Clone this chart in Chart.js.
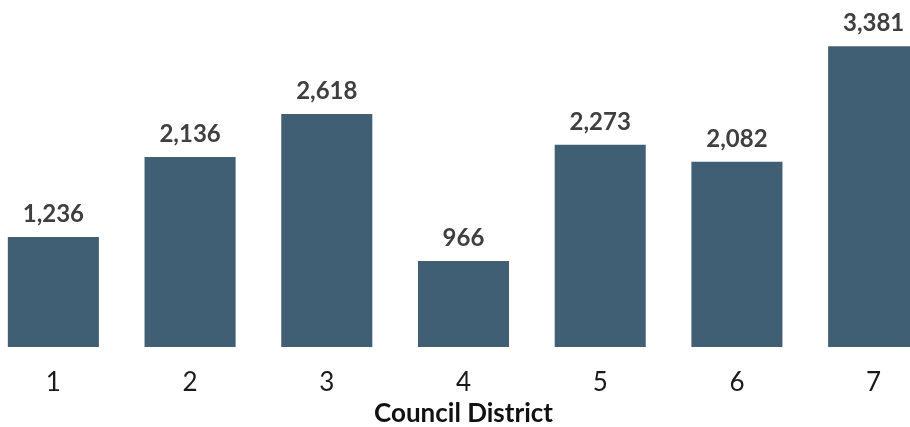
<!DOCTYPE html>
<html>
<head>
<meta charset="utf-8">
<script src="https://cdn.jsdelivr.net/npm/chart.js@4/dist/chart.umd.min.js"></script>
<style>
  html, body { margin: 0; padding: 0; background: #ffffff; overflow: hidden; }
  #wrap { position: relative; width: 910px; height: 427px; overflow: hidden; }
  #chart { position: absolute; left: -15px; top: 0; }
</style>
</head>
<body>
<div id="wrap"><canvas id="chart" width="957" height="427"></canvas></div>
<script>
const districts = ['1', '2', '3', '4', '5', '6', '7'];
const counts = [1236, 2136, 2618, 966, 2273, 2082, 3381];
const axisTitle = 'Council District';

const barColor = '#415f74';
const labelColor = '#3f3f3f';

// Writes each bar's value above it
const valueLabels = {
  id: 'valueLabels',
  afterDatasetsDraw(chart) {
    const ctx = chart.ctx;
    const meta = chart.getDatasetMeta(0);
    ctx.save();
    ctx.font = 'bold 24px Lato';
    ctx.fillStyle = labelColor;
    ctx.textAlign = 'center';
    ctx.textBaseline = 'alphabetic';
    meta.data.forEach((bar, i) => {
      const v = chart.data.datasets[0].data[i];
      ctx.fillText(v.toLocaleString('en-US'), bar.x, bar.y - 15);
    });
    ctx.restore();
  }
};

new Chart(document.getElementById('chart'), {
  type: 'bar',
  data: {
    labels: districts,
    datasets: [{
      data: counts,
      backgroundColor: barColor,
      borderWidth: 0,
      categoryPercentage: 1.0,
      barPercentage: 0.666
    }]
  },
  options: {
    responsive: false,
    animation: false,
    layout: { padding: 0 },
    plugins: { legend: { display: false }, tooltip: { enabled: false } },
    scales: {
      x: {
        grid: { display: false, drawTicks: false },
        border: { display: false },
        ticks: {
          color: '#1a1a1a',
          font: { family: 'Lato', size: 26 },
          padding: 20
        },
        title: {
          display: true,
          text: axisTitle,
          color: '#111111',
          font: { family: 'Lato', size: 26, weight: 'bold', lineHeight: 1 },
          padding: { top: 0, bottom: 0 }
        },
        afterFit(scale) { scale.height = 80; }
      },
      y: {
        display: false,
        min: 0,
        max: 3900
      }
    }
  },
  plugins: [valueLabels]
});
</script>
</body>
</html>
